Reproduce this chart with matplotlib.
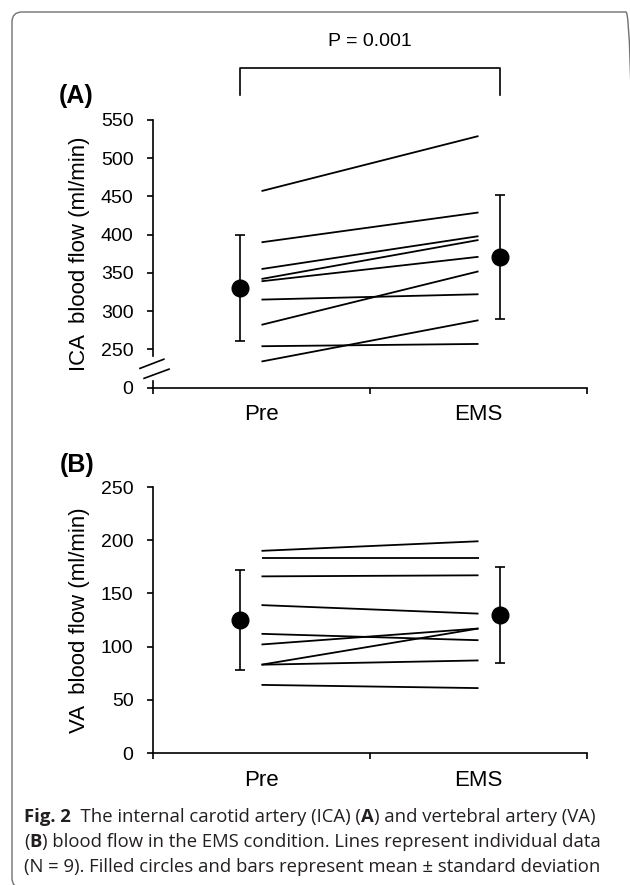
import matplotlib
matplotlib.use("Agg")
import matplotlib.pyplot as plt
from matplotlib.patches import FancyBboxPatch
from matplotlib.transforms import IdentityTransform

# individual subjects
conditions = ["Pre", "EMS"]
ica_pre = [457, 390, 355, 342, 339, 315, 282, 254, 234]
ica_ems = [529, 429, 398, 393, 371, 322, 352, 257, 288]
va_pre = [190, 183, 166, 139, 112, 102, 83, 83, 64]
va_ems = [199, 183, 167, 131, 106, 117, 117, 87, 61]

# mean and SD
ica_mean = [330, 371]
ica_sd = [69, 81]
va_mean = [125, 130]
va_sd = [47, 45]

ica_ticks = [200, 250, 300, 350, 400, 450, 500, 550]   # 200 is drawn as the broken "0"
ica_ticklabels = ["0", "250", "300", "350", "400", "450", "500", "550"]
va_ticks = [0, 50, 100, 150, 200, 250]

plt.rcParams["font.family"] = ["Liberation Sans", "DejaVu Sans"]

W, H = 630, 885
fig = plt.figure(figsize=(6.3, 8.85), dpi=100)

# rounded frame around the whole figure (pixel coords, y from bottom)
frame = FancyBboxPatch((12, H - 888), 624, 876,
                       boxstyle="round,pad=0,rounding_size=10",
                       transform=IdentityTransform(), fill=False,
                       edgecolor="#707070", linewidth=1.0)
fig.patches.append(frame)

axA = fig.add_axes([153 / W, 1 - 387.5 / H, 434 / W, 267.5 / H])
axB = fig.add_axes([153 / W, 1 - 753 / H, 434 / W, 266 / H])

x_ind = [0.5, 1.5]
x_mean = [0.4, 1.6]


def draw_panel(ax, pre, ems, mean, sd, ylim, ticks, ticklabels, ylabel):
    for a, b in zip(pre, ems):
        ax.plot(x_ind, [a, b], color="black", lw=1.3, solid_capstyle="butt")
    ax.errorbar(x_mean, mean, yerr=sd, fmt="o", color="black", ms=12,
                elinewidth=1.2, capsize=3.5, capthick=1.2)
    ax.set_xlim(0, 2)
    ax.set_ylim(*ylim)
    ax.set_yticks(ticks)
    ax.set_yticklabels(ticklabels)
    ax.set_xticks([0, 1, 2])
    ax.set_xticklabels([])
    ax.set_xticks(x_ind, minor=True)
    ax.set_xticklabels(conditions, minor=True, fontsize=16)
    ax.tick_params(axis="x", which="minor", length=0, pad=12)
    ax.tick_params(axis="x", which="major", direction="out", length=4, width=1.2)
    ax.tick_params(axis="y", direction="out", length=4, width=1.2, labelsize=14, pad=10)
    for s in ["top", "right"]:
        ax.spines[s].set_visible(False)
    for s in ["left", "bottom"]:
        ax.spines[s].set_linewidth(1.2)
    ax.set_ylabel(ylabel, fontsize=16)
    ax.yaxis.set_label_coords(-0.145, 0.5)
    ax.patch.set_visible(False)


draw_panel(axA, ica_pre, ica_ems, ica_mean, ica_sd, (200, 550),
           ica_ticks, ica_ticklabels, "ICA  blood flow (ml/min)")
draw_panel(axB, va_pre, va_ems, va_mean, va_sd, (0, 250),
           va_ticks, [str(t) for t in va_ticks], "VA  blood flow (ml/min)")

# axis break on panel A
axA.spines["left"].set_bounds(241, 550)
axA.plot([0, 0], [200, 208], color="black", lw=1.2, clip_on=False)
axA.plot([-0.06, 0.05], [225, 237], color="black", lw=1.2, clip_on=False)
axA.plot([-0.041, 0.074], [212, 224], color="black", lw=1.2, clip_on=False)

# significance bracket
axA.plot([0.4, 0.4, 1.6, 1.6], [583, 618, 618, 583], color="black", lw=1.2,
         clip_on=False)
axA.text(1.0, 653, "P = 0.001", ha="center", va="center", fontsize=14)

fig.text(76 / W, 1 - 96 / H, "(A)", ha="center", va="center", fontsize=18,
         fontweight="bold")
fig.text(77 / W, 1 - 465 / H, "(B)", ha="center", va="center", fontsize=18,
         fontweight="bold")

# caption with bold runs
caption = [
    [("Fig. 2", "bold"), ("  The internal carotid artery (ICA) (", "normal"),
     ("A", "bold"), (") and vertebral artery (VA)", "normal")],
    [("(", "normal"), ("B", "bold"),
     (") blood flow in the EMS condition. Lines represent individual data", "normal")],
    [("(N = 9). Filled circles and bars represent mean \u00b1 standard deviation", "normal")],
]
renderer = fig.canvas.get_renderer()
line_y = [817, 842, 867]
for runs, yy in zip(caption, line_y):
    xx = 24
    for txt, weight in runs:
        t = fig.text(xx / W, 1 - yy / H, txt, ha="left", va="center",
                     fontsize=13.3, fontweight=weight, color="#231f20",
                     family=["Open Sans", "DejaVu Sans"])
        bb = t.get_window_extent(renderer=renderer)
        xx += bb.width

fig.savefig("out.png", dpi=100)
